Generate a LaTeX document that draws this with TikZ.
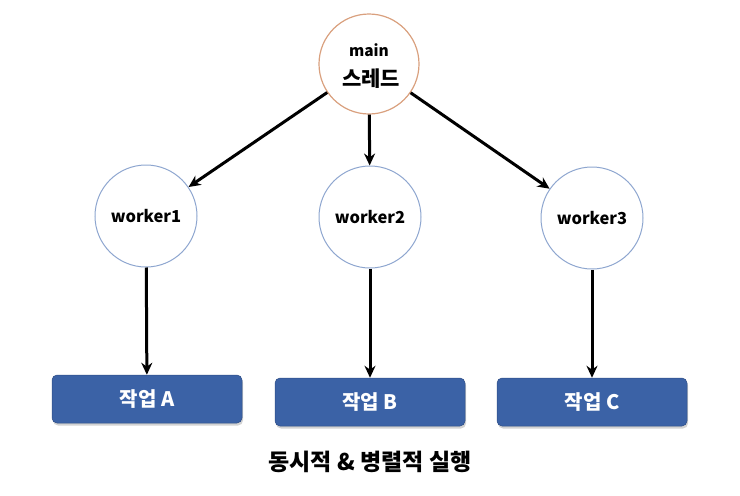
\documentclass[tikz,border=0pt]{standalone}
\usepackage{fontspec}
\setmainfont{Noto Sans CJK KR}
\usetikzlibrary{arrows.meta,shadows}
\definecolor{boxblue}{HTML}{3B62A6}
\definecolor{mainring}{HTML}{D9A07E}
\definecolor{workring}{HTML}{8EA6CF}
\tikzset{
  mainnode/.style={circle,draw=mainring,line width=1.2pt,minimum size=100pt,inner sep=0pt,align=center,font=\bfseries},
  worknode/.style={circle,draw=workring,line width=1pt,minimum size=102pt,inner sep=0pt,font=\bfseries\fontsize{16.5}{18}\selectfont},
  taskbox/.style={rectangle,rounded corners=5pt,fill=boxblue,draw=boxblue!80!black,line width=0.5pt,minimum width=190pt,minimum height=48pt,text=white,font=\bfseries\fontsize{20}{22}\selectfont,drop shadow={opacity=0.35,shadow xshift=1pt,shadow yshift=-2.5pt}},
  conn/.style={-{Stealth[length=12pt,width=11pt]},line width=3pt,black}
}
\begin{document}
\begin{tikzpicture}[x=1pt,y=-1pt]
\useasboundingbox (0,0) rectangle (740,496);
\node[mainnode] (main) at (369,64) {};
\node[font=\bfseries\fontsize{15.5}{17}\selectfont] (mainA) at (369,50) {main};
\node[font=\bfseries\fontsize{21}{23}\selectfont] (mainB) at (371,79) {스레드};
\node[worknode] (w1) at (146,216) {worker1};
\node[worknode] (w2) at (370,217) {worker2};
\node[worknode] (w3) at (592,218) {worker3};
\node[taskbox] (a) at (147,399) {작업 A};
\node[taskbox] (b) at (370,402) {작업 B};
\node[taskbox] (c) at (592,402) {작업 C};
\node[font=\bfseries\fontsize{23}{25}\selectfont] (cap) at (370,462) {동시적 \& 병렬적 실행};
\draw[conn] (main) -- (w1);
\draw[conn] (main) -- (w2);
\draw[conn] (main) -- (w3);
\draw[conn] (w1) -- (a);
\draw[conn] (w2) -- (b);
\draw[conn] (w3) -- (c);
\end{tikzpicture}
\end{document}
